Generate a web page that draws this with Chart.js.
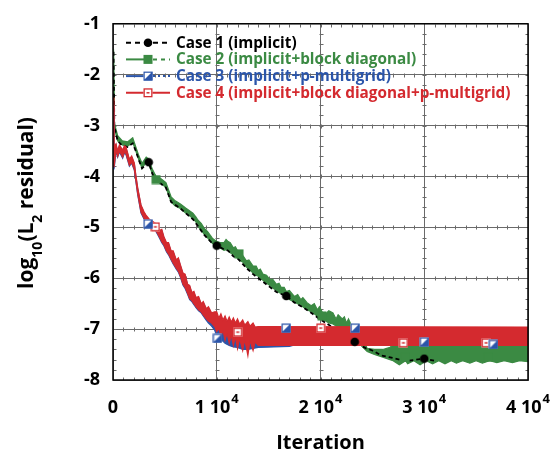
<!DOCTYPE html>
<html><head><meta charset="utf-8">
<script src="https://cdn.jsdelivr.net/npm/chart.js@4.4.0/dist/chart.umd.min.js"></script>
<style>html,body{margin:0;padding:0;background:#fff;}#wrap{width:554px;height:453px;}</style>
</head><body><div id="wrap"><canvas id="c" width="554" height="453"></canvas></div>
<script>
// ---------- data ----------
const xTickValues = [0, 10000, 20000, 30000, 40000];
const xTickLabels = ['0', '1 10^4', '2 10^4', '3 10^4', '4 10^4'];
const yTickValues = [-1, -2, -3, -4, -5, -6, -7, -8];
const yTickLabels = ['-1', '-2', '-3', '-4', '-5', '-6', '-7', '-8'];
const xTitle = 'Iteration';
const seriesLabels = ['Case 1 (implicit)', 'Case 2 (implicit+block diagonal)', 'Case 3 (implicit+p-multigrid)', 'Case 4 (implicit+block diagonal+p-multigrid)'];

// Case 1: single trace [iteration, log10 residual]
const case1Iter  = [50, 130, 450, 900, 1400, 1900, 2200, 2500, 2800, 3440, 3800, 4150, 4600, 5100, 5600, 6500, 7000, 7700, 8200, 8800, 9600, 10000, 10600, 11100, 11600, 12050, 12860, 13500, 14460, 15100, 15750, 16700, 17500, 18300, 19100, 19900, 20900, 22000, 23300, 24400, 25000, 25900, 26600, 27600, 28500, 30000, 31000];
const case1Resid = [-1.55, -3.02, -3.30, -3.40, -3.42, -3.35, -3.50, -3.68, -3.84, -3.72, -3.95, -4.10, -4.14, -4.22, -4.50, -4.63, -4.72, -4.84, -4.98, -5.15, -5.32, -5.36, -5.42, -5.46, -5.57, -5.62, -5.80, -5.92, -6.07, -6.17, -6.27, -6.35, -6.48, -6.57, -6.68, -6.80, -6.93, -7.07, -7.25, -7.38, -7.42, -7.52, -7.55, -7.60, -7.62, -7.58, -7.62];

// Cases 2-4: noisy traces given as [iteration, upper edge, lower edge]
const case2Band = [
  [50, -1.50, -1.56], [130, -2.95, -3.05], [450, -3.20, -3.30], [900, -3.30, -3.38], [1400, -3.32, -3.41],
  [1900, -3.24, -3.33], [2200, -3.42, -3.50], [2500, -3.60, -3.68], [2800, -3.74, -3.84], [3200, -3.62, -3.72],
  [3440, -3.66, -3.75], [3800, -3.86, -3.95], [4150, -4.00, -4.10], [4600, -4.04, -4.13], [5100, -4.12, -4.22],
  [5600, -4.40, -4.50], [6000, -4.48, -4.58], [6500, -4.54, -4.63], [7000, -4.62, -4.72], [7700, -4.72, -4.82],
  [8000, -4.80, -4.90], [8200, -4.86, -4.98], [8500, -4.92, -5.06], [8800, -5.02, -5.14], [9100, -5.08, -5.20],
  [9400, -5.16, -5.28], [9600, -5.22, -5.32], [10000, -5.28, -5.37], [10300, -5.30, -5.40], [10700, -5.30, -5.45],
  [10900, -5.24, -5.44], [11100, -5.28, -5.46], [11300, -5.30, -5.50], [11600, -5.40, -5.54], [11800, -5.38, -5.57],
  [12050, -5.48, -5.62], [12300, -5.46, -5.66], [12500, -5.55, -5.68], [12860, -5.66, -5.78], [13100, -5.64, -5.82],
  [13500, -5.76, -5.90], [13800, -5.76, -5.94], [14000, -5.85, -5.96], [14200, -5.82, -6.00], [14460, -5.92, -6.04],
  [14800, -5.94, -6.10], [15100, -6.02, -6.14], [15400, -6.02, -6.19], [15750, -6.12, -6.24], [16000, -6.10, -6.28],
  [16200, -6.18, -6.30], [16500, -6.18, -6.34], [16700, -6.26, -6.38], [17000, -6.24, -6.42], [17500, -6.36, -6.47],
  [17800, -6.32, -6.50], [18100, -6.42, -6.54], [18300, -6.38, -6.56], [18700, -6.48, -6.62], [19100, -6.54, -6.66],
  [19400, -6.50, -6.70], [19700, -6.62, -6.75], [19900, -6.56, -6.78], [20200, -6.68, -6.82], [20500, -6.70, -6.84],
  [20800, -6.64, -6.88], [21200, -6.68, -6.90], [21500, -6.80, -6.94], [21700, -6.72, -6.96], [22100, -6.80, -7.02],
  [22300, -6.76, -7.05], [22500, -6.88, -7.08], [22700, -6.80, -7.10], [23000, -6.94, -7.15], [23800, -7.05, -7.30],
  [24500, -7.38, -7.44], [25200, -7.40, -7.50], [26000, -7.40, -7.55], [26700, -7.36, -7.60], [27000, -7.30, -7.62],
  [27600, -7.30, -7.70], [28200, -7.30, -7.62], [28400, -7.30, -7.68], [29000, -7.30, -7.62], [29600, -7.30, -7.70],
  [30200, -7.30, -7.62], [30800, -7.30, -7.68], [31400, -7.30, -7.62], [32000, -7.30, -7.68], [32600, -7.30, -7.62],
  [33100, -7.30, -7.67], [33700, -7.30, -7.62], [34400, -7.30, -7.67], [35000, -7.30, -7.62], [35600, -7.30, -7.67],
  [36300, -7.30, -7.62], [37000, -7.30, -7.66], [37700, -7.30, -7.62], [38500, -7.30, -7.66], [39200, -7.30, -7.62],
  [40000, -7.30, -7.64]
];
const case3Band = [
  [40, -2.60, -2.75], [90, -3.55, -3.86], [170, -3.44, -3.74], [290, -3.38, -3.50], [450, -3.52, -3.62],
  [620, -3.40, -3.52], [930, -3.50, -3.64], [1100, -3.42, -3.54], [1250, -3.44, -3.57], [1580, -3.68, -3.80],
  [1800, -3.62, -3.74], [2060, -3.76, -3.88], [2220, -4.02, -4.12], [2380, -4.24, -4.36], [2700, -4.58, -4.72],
  [3000, -4.72, -4.84], [3180, -4.78, -4.92], [3500, -4.86, -4.98], [4080, -4.94, -5.06], [4300, -4.98, -5.14],
  [4500, -5.08, -5.22], [4700, -5.06, -5.30], [4900, -5.20, -5.36], [5150, -5.32, -5.48], [5350, -5.32, -5.54],
  [5600, -5.48, -5.64], [5800, -5.48, -5.72], [6100, -5.66, -5.82], [6300, -5.62, -5.88], [6500, -5.76, -5.98],
  [6750, -5.92, -6.14], [6950, -5.94, -6.20], [7200, -6.14, -6.32], [7390, -6.16, -6.42], [7600, -6.30, -6.46],
  [7800, -6.28, -6.52], [8000, -6.40, -6.58], [8250, -6.38, -6.64], [8500, -6.52, -6.68], [8700, -6.48, -6.74],
  [9000, -6.62, -6.83], [9200, -6.58, -6.88], [9500, -6.70, -6.94], [9800, -6.70, -7.02], [10060, -6.78, -7.18],
  [10400, -6.82, -7.20], [10800, -6.84, -7.28], [11200, -6.86, -7.32], [11600, -6.88, -7.35], [12000, -6.90, -7.36],
  [12500, -6.92, -7.40], [13000, -6.94, -7.40], [13500, -6.96, -7.38], [14000, -6.98, -7.36], [17000, -6.98, -7.34],
  [17500, -7.00, -7.31], [40000, -7.00, -7.31]
];
const case4Band = [
  [40, -2.45, -2.60], [90, -3.50, -3.82], [170, -3.40, -3.70], [290, -3.36, -3.48], [450, -3.50, -3.60],
  [620, -3.38, -3.50], [930, -3.48, -3.62], [1100, -3.40, -3.52], [1250, -3.42, -3.55], [1580, -3.66, -3.78],
  [1800, -3.60, -3.72], [2060, -3.74, -3.86], [2220, -4.00, -4.10], [2380, -4.22, -4.34], [2700, -4.56, -4.70],
  [3000, -4.70, -4.82], [3180, -4.76, -4.90], [3500, -4.84, -4.96], [4080, -4.92, -5.04], [4300, -4.96, -5.12],
  [4500, -5.06, -5.20], [4700, -5.04, -5.28], [4900, -5.18, -5.34], [5150, -5.30, -5.46], [5350, -5.30, -5.52],
  [5600, -5.46, -5.62], [5800, -5.46, -5.70], [6100, -5.64, -5.80], [6300, -5.60, -5.86], [6500, -5.74, -5.96],
  [6750, -5.90, -6.12], [6950, -5.92, -6.18], [7200, -6.12, -6.30], [7390, -6.14, -6.40], [7600, -6.28, -6.44],
  [7800, -6.26, -6.50], [8000, -6.38, -6.56], [8250, -6.36, -6.62], [8500, -6.50, -6.66], [8700, -6.46, -6.72],
  [9000, -6.60, -6.80], [9200, -6.56, -6.84], [9500, -6.68, -6.88], [9800, -6.66, -6.95], [10000, -6.66, -7.05],
  [10200, -6.78, -6.98], [10400, -6.70, -7.15], [10600, -6.82, -7.02], [10800, -6.74, -7.22], [11000, -6.85, -7.08],
  [11200, -6.76, -7.28], [11400, -6.86, -7.12], [11600, -6.78, -7.32], [11800, -6.88, -7.15], [12000, -6.80, -7.38],
  [12200, -6.90, -7.18], [12500, -6.82, -7.42], [12700, -6.92, -7.20], [13000, -6.85, -7.52], [13200, -6.94, -7.22],
  [13500, -6.88, -7.42], [13700, -6.96, -7.25], [14000, -6.95, -7.32], [40000, -6.96, -7.32]
];

// symbol positions
const case1MarkIter  = [3440, 10000, 16700, 23300, 30000];
const case1MarkResid = [-3.72, -5.36, -6.35, -7.25, -7.58];
const case2MarkIter  = [4150, 12150, 20150, 28150, 36150];
const case2MarkResid = [-4.06, -5.52, -6.74, -7.55, -7.55];
const case3MarkIter  = [3380, 10060, 16680, 23330, 30010, 36660];
const case3MarkResid = [-4.93, -7.18, -6.98, -6.98, -7.25, -7.30];
const case4MarkIter  = [4080, 12020, 20020, 27990, 35960];
const case4MarkResid = [-4.99, -7.06, -6.98, -7.27, -7.27];

// ---------- styling ----------
const COLORS = ['#000000', '#3b8a43', '#2b55aa', '#d42a2f'];
const FONT = "'Open Sans', 'DejaVu Sans', sans-serif";
const GRID = '#6a6a6a';

function drawMarker(ctx, kind, cx, cy) {
  ctx.save();
  ctx.setLineDash([]);
  const h = 4.5;
  if (kind === 0) {
    ctx.fillStyle = COLORS[0];
    ctx.beginPath(); ctx.arc(cx, cy, 4.3, 0, Math.PI * 2); ctx.fill();
  } else if (kind === 1) {
    ctx.fillStyle = COLORS[1];
    ctx.fillRect(cx - h, cy - h, 2 * h, 2 * h);
  } else if (kind === 2) {
    ctx.fillStyle = '#fff';
    ctx.fillRect(cx - h, cy - h, 2 * h, 2 * h);
    ctx.fillStyle = COLORS[2];
    ctx.beginPath(); ctx.moveTo(cx + h, cy - h); ctx.lineTo(cx + h, cy + h); ctx.lineTo(cx - h, cy + h); ctx.closePath(); ctx.fill();
    ctx.strokeStyle = COLORS[2]; ctx.lineWidth = 1.2;
    ctx.strokeRect(cx - h + 0.6, cy - h + 0.6, 2 * h - 1.2, 2 * h - 1.2);
  } else {
    ctx.fillStyle = '#fff';
    ctx.fillRect(cx - h, cy - h, 2 * h, 2 * h);
    ctx.strokeStyle = COLORS[3]; ctx.lineWidth = 1.3;
    ctx.strokeRect(cx - h + 0.65, cy - h + 0.65, 2 * h - 1.3, 2 * h - 1.3);
    ctx.fillStyle = COLORS[3];
    ctx.fillRect(cx - 1.5, cy - 0.75, 3, 1.5);
  }
  ctx.restore();
}
function markerCanvas(kind) {
  const cv = document.createElement('canvas');
  cv.width = 10; cv.height = 10;
  drawMarker(cv.getContext('2d'), kind, 5, 5);
  return cv;
}
const pts = (xs, ys) => xs.map((x, i) => ({ x: x, y: ys[i] }));
const edge = (rows, k) => rows.map(r => ({ x: r[0], y: r[k] }));

function bandPair(rows, color, order) {
  return [
    { data: edge(rows, 1), showLine: true, borderColor: color, backgroundColor: color, borderWidth: 1.2, pointRadius: 0, fill: '+1', order: order, tension: 0 },
    { data: edge(rows, 2), showLine: true, borderColor: color, borderWidth: 1.2, pointRadius: 0, fill: false, order: order, tension: 0 }
  ];
}
function markerSet(xs, ys, kind) {
  return { data: pts(xs, ys), showLine: false, pointStyle: markerCanvas(kind), pointRadius: 5, pointHoverRadius: 5, order: 0 };
}

const datasets = [
  markerSet(case1MarkIter, case1MarkResid, 0),
  markerSet(case3MarkIter, case3MarkResid, 2),
  markerSet(case4MarkIter, case4MarkResid, 3),
  markerSet(case2MarkIter, case2MarkResid, 1),
  ...bandPair(case4Band, COLORS[3], 1),
  ...bandPair(case3Band, COLORS[2], 2),
  { data: pts(case1Iter, case1Resid), showLine: true, borderColor: COLORS[0], borderWidth: 1.8, borderDash: [4, 3], pointRadius: 0, fill: false, order: 3, tension: 0 },
  ...bandPair(case2Band, COLORS[1], 4)
];

// ---------- custom decorations ----------
const decor = {
  id: 'decor',
  beforeDatasetsDraw(chart) {
    const { ctx, chartArea: a, scales: { x, y } } = chart;
    ctx.save();
    ctx.strokeStyle = GRID; ctx.lineWidth = 1;
    ctx.beginPath();
    // minor ticks along vertical grid lines
    xTickValues.forEach(v => {
      const px = Math.round(x.getPixelForValue(v)) + 0.5;
      for (let t = -8; t <= -1.0001; t += 0.2) {
        const py = Math.round(y.getPixelForValue(t)) + 0.5;
        const l = px < a.left + 2 ? 0 : 2, r = px > a.right - 2 ? 0 : 2;
        ctx.moveTo(px - l - (r ? 0 : 1), py); ctx.lineTo(px + r + (l ? 0 : 1), py);
      }
    });
    // minor ticks along horizontal grid lines
    yTickValues.forEach(v => {
      const py = Math.round(y.getPixelForValue(v)) + 0.5;
      for (let t = 0; t <= 40000; t += 1000) {
        const px = Math.round(x.getPixelForValue(t)) + 0.5;
        const up = py < a.top + 2 ? 0 : 2, dn = py > a.bottom - 2 ? 0 : 2;
        ctx.moveTo(px, py - up - (dn ? 0 : 1)); ctx.lineTo(px, py + dn + (up ? 0 : 1));
      }
    });
    ctx.stroke();
    ctx.restore();
  },
  afterDraw(chart) {
    const { ctx, chartArea: a, scales: { x, y } } = chart;
    ctx.save();
    // frame
    ctx.strokeStyle = '#000'; ctx.lineWidth = 1.5; ctx.setLineDash([]);
    ctx.strokeRect(a.left, a.top, a.right - a.left, a.bottom - a.top);

    // x tick labels with superscript exponent
    ctx.fillStyle = '#000'; ctx.textBaseline = 'alphabetic'; ctx.textAlign = 'left';
    xTickValues.forEach((v, i) => {
      const parts = xTickLabels[i].split('^');
      ctx.font = 'bold 18px ' + FONT;
      const w0 = ctx.measureText(parts[0]).width;
      ctx.font = 'bold 13px ' + FONT;
      const w1 = parts[1] ? ctx.measureText(parts[1]).width + 1 : 0;
      const px = x.getPixelForValue(v) - (w0 + w1) / 2;
      const base = 413;
      ctx.font = 'bold 18px ' + FONT;
      ctx.fillText(parts[0], px, base);
      if (parts[1]) { ctx.font = 'bold 13px ' + FONT; ctx.fillText(parts[1], px + w0 + 1, base - 10); }
    });

    // x title
    ctx.font = 'bold 20px ' + FONT; ctx.textAlign = 'center';
    ctx.fillText(xTitle, (a.left + a.right) / 2, 449);

    // y title with subscripts: log10(L2 residual)
    const pieces = [['log', 0], ['10', 1], ['(L', 0], ['2', 1], [' residual)', 0]];
    const fMain = 'bold 21px ' + FONT, fSub = 'bold 14px ' + FONT;
    let total = 0;
    pieces.forEach(p => { ctx.font = p[1] ? fSub : fMain; total += ctx.measureText(p[0]).width; });
    ctx.translate(33, 203); ctx.rotate(-Math.PI / 2); ctx.textAlign = 'left';
    let u = -total / 2;
    pieces.forEach(p => { ctx.font = p[1] ? fSub : fMain; ctx.fillText(p[0], u, p[1] ? 9 : 0); u += ctx.measureText(p[0]).width; });
    ctx.setTransform(1, 0, 0, 1, 0, 0);

    // legend inside plot
    const x0 = a.left + 13, x1 = a.left + 57, xm = a.left + 35, xt = a.left + 63;
    const rows = [42.7, 59.4, 76.1, 92.8];
    ctx.font = 'bold 15.3px ' + FONT; ctx.textAlign = 'left'; ctx.textBaseline = 'middle';
    seriesLabels.forEach((lab, i) => {
      const ry = rows[i];
      ctx.strokeStyle = COLORS[i]; ctx.lineWidth = 2;
      const seg = (xa, xb, dash) => { ctx.setLineDash(dash); ctx.beginPath(); ctx.moveTo(xa, ry); ctx.lineTo(xb, ry); ctx.stroke(); };
      if (i === 0) seg(x0, x1, [5, 4]);
      else if (i === 1) { seg(x0, xm, []); seg(xm + 5, x1, [4, 4]); }
      else if (i === 2) { seg(x0, xm, []); seg(xm + 5, x1, [2, 3]); }
      else seg(x0, x1, []);
      ctx.setLineDash([]);
      drawMarker(ctx, i, xm, ry);
      ctx.fillStyle = COLORS[i];
      ctx.fillText(lab, xt, ry + 0.5);
    });
    ctx.restore();
  }
};

new Chart(document.getElementById('c'), {
  type: 'scatter',
  data: { datasets: datasets },
  options: {
    responsive: false, animation: false, devicePixelRatio: 1,
    layout: { padding: { left: 0, top: 20, right: 26, bottom: 0 } },
    plugins: { legend: { display: false }, tooltip: { enabled: false } },
    events: [],
    scales: {
      x: {
        type: 'linear', min: 0, max: 40000,
        ticks: { display: false, stepSize: 10000 },
        grid: { color: GRID, lineWidth: 1, drawTicks: false },
        border: { display: false },
        afterFit: s => { s.height = 73; }
      },
      y: {
        type: 'linear', min: -8, max: -1,
        ticks: { stepSize: 1, padding: 13, color: '#000', font: { family: FONT, size: 18, weight: 'bold' },
                 callback: v => { const k = yTickValues.indexOf(v); return k >= 0 ? yTickLabels[k] : ''; } },
        grid: { color: GRID, lineWidth: 1, drawTicks: false },
        border: { display: false },
        afterFit: s => { s.height = undefined; s.width = 113; }
      }
    }
  },
  plugins: [decor]
});
</script>
</body></html>
